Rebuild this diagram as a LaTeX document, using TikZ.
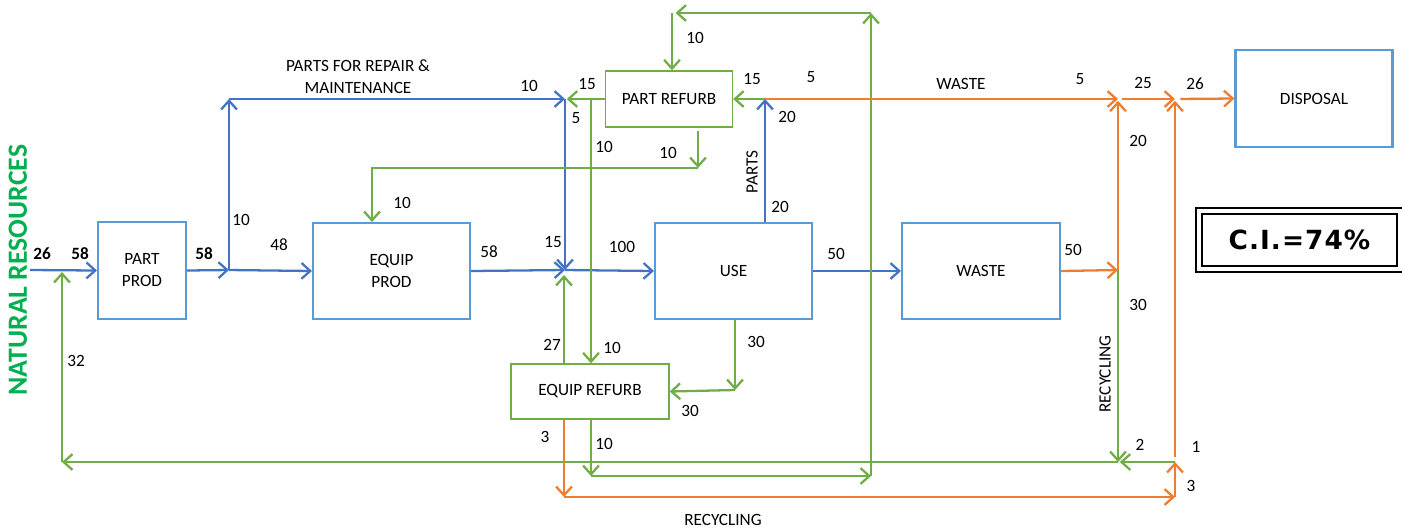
\documentclass[tikz,border=0pt]{standalone}
\usepackage{fontspec}
\setmainfont{Carlito}
\newfontfamily\cifont[LetterSpace=4]{DejaVu Sans}
\usetikzlibrary{arrows.meta}

\definecolor{boxblue}{RGB}{91,155,213}
\definecolor{flowblue}{RGB}{68,114,196}
\definecolor{flowgreen}{RGB}{112,173,71}
\definecolor{floworange}{RGB}{237,125,49}
\definecolor{natgreen}{RGB}{0,176,80}

\begin{document}
\begin{tikzpicture}[x=0.02cm, y=-0.02cm,
    box/.style   = {rectangle, draw=boxblue, line width=1.2pt, align=center,
                    font=\fontsize{9.8}{12.5}\selectfont},
    gbox/.style  = {rectangle, draw=flowgreen, line width=0.8pt, align=center,
                    font=\fontsize{9.8}{12.5}\selectfont},
    flow/.style  = {-{Straight Barb[length=5pt, width=9pt, line width=1.3pt]}, line width=1.3pt},
    lbl/.style   = {font=\fontsize{9.8}{12.5}\selectfont, inner sep=0pt}
]
\useasboundingbox (0,0) rectangle (1402,529);

% boxes
\node[box, minimum width=1.76cm, minimum height=1.94cm] (pprod) at (142,270.5) {PART\\PROD};
\node[box, minimum width=3.14cm, minimum height=1.92cm] (eprod) at (391.5,271) {EQUIP\\PROD};
\node[box, minimum width=3.14cm, minimum height=1.92cm] (use)   at (733.5,271) {USE};
\node[box, minimum width=3.16cm, minimum height=1.92cm] (waste) at (981,271)   {WASTE};
\node[box, minimum width=3.14cm, minimum height=1.94cm] (disp)  at (1314,98.5) {DISPOSAL};
\node[gbox, minimum width=2.54cm, minimum height=1.12cm] (prefurb) at (669,99)  {PART REFURB};
\node[gbox, minimum width=3.16cm, minimum height=1.10cm] (erefurb) at (590,391.5) {EQUIP REFURB};
\node[draw, line width=1.5pt, minimum width=3.9cm, minimum height=1.04cm,
      font=\cifont\bfseries\fontsize{15}{18}\selectfont] (ci) at (1299.5,240) {C.I.=74\%};
\draw[line width=0.9pt] ([shift={(-2.6pt,2.6pt)}]ci.north west) rectangle ([shift={(2.6pt,-2.6pt)}]ci.south east);
\node[rotate=90, text=natgreen, font=\bfseries\fontsize{15.8}{18}\selectfont, inner sep=0pt] (natres) at (18,270) {NATURAL RESOURCES};

% junctions
\coordinate (src)    at (30,270);
\coordinate (jin)    at (62,272);
\coordinate (jsplit) at (229,270);
\coordinate (jcorner) at (229,99);
\coordinate (jtop)   at (565,99);
\coordinate (jmix)   at (565,270);
\coordinate (jmixb)  at (564,275);
\coordinate (jpart)  at (765,99);
\coordinate (jr1)    at (698,168);
\coordinate (jr2)    at (372,168);
\coordinate (jtl)    at (672,13);
\coordinate (jtr)    at (871,13);
\coordinate (jbl)    at (591,476);
\coordinate (jbr)    at (871,476);
\coordinate (jv)     at (591,99);
\coordinate (ju)     at (735,390);
\coordinate (jw1)    at (1118,99);
\coordinate (jw2)    at (1118,270);
\coordinate (jd)     at (1175,99);
\coordinate (jrec)   at (1118,462);
\coordinate (jrr)    at (1175,462);
\coordinate (jll)    at (62,462);
\coordinate (jo1)    at (564,497);
\coordinate (jo2)    at (1175,497);

% blue flows
\draw[flow, flowblue] (src) -- (pprod.west);
\draw[flow, flowblue] (pprod.east) -- (jsplit);
\draw[flow, flowblue] (jsplit) -- (eprod.west);
\draw[flow, flowblue] (jsplit) -- (jcorner);
\draw[flow, flowblue] (jcorner) -- (jtop);
\draw[flow, flowblue] (jtop) -- (jmix);
\draw[flow, flowblue] (eprod.east) -- (jmix);
\draw[flow, flowblue] (jmix) -- (use.west);
\draw[flow, flowblue] (use.north -| jpart) -- (jpart);
\draw[flow, flowblue] (use.east) -- (waste.west);

% green flows
\draw[flow, flowgreen] (prefurb.west) -- ([xshift=1pt]jtop);
\draw[flow, flowgreen] (jv) -- (erefurb.north -| jv);
\draw[flow, flowgreen] ([yshift=-2pt]prefurb.south -| jr1) -- (jr1);
\draw[flow, flowgreen] (jr1) -- (jr2) -- (eprod.north -| jr2);
\draw[flow, flowgreen] (erefurb.north -| jmixb) -- (jmixb);
\draw[flow, flowgreen] (jpart) -- (prefurb.east);
\draw[flow, flowgreen] (jtr) -- ([xshift=2pt]jtl);
\draw[flow, flowgreen] (jtl) -- (prefurb.north -| jtl);
\draw[flow, flowgreen] (erefurb.south -| jbl) -- (jbl);
\draw[flow, flowgreen] (jbl) -- (jbr);
\draw[flow, flowgreen] (jbr) -- (jtr);
\draw[flow, flowgreen] (use.south -| ju) -- (ju);
\draw[flow, flowgreen] (ju) -- (erefurb.east);
\draw[flow, flowgreen] (jw2) -- (jrec);
\draw[flow, flowgreen] (jrr) -- ([xshift=1pt]jrec);
\draw[flow, flowgreen] (jrec) -- (jll);
\draw[flow, flowgreen] (jll) -- (jin);

% orange flows
\draw[flow, floworange] (jpart) -- (jw1);
\draw[flow, floworange] (waste.east) -- (jw2);
\draw[flow, floworange] (jw2) -- ([yshift=-1pt]jw1);
\draw[flow, floworange, shorten <=2pt] (jw1) -- (jd);
\draw[flow, floworange, shorten <=3pt] (jd) -- (disp.west);
\draw[flow, floworange] (jo2) -- (jrr);
\draw[flow, floworange, shorten <=3pt] (jrr) -- ([yshift=-1pt]jd);
\draw[flow, floworange] (erefurb.south -| jo1) -- (jo1);
\draw[flow, floworange] (jo1) -- (jo2);

% labels
\node[lbl, font=\bfseries\fontsize{9.8}{12.5}\selectfont] (l26a) at (42,254) {26};
\node[lbl, font=\bfseries\fontsize{9.8}{12.5}\selectfont] (l58a) at (80,254) {58};
\node[lbl, font=\bfseries\fontsize{9.8}{12.5}\selectfont] (l58b) at (204,254) {58};
\node[lbl] (l32)  at (76,361)  {32};
\node[lbl] (l10a) at (241,220) {10};
\node[lbl] (l48)  at (279,245) {48};
\node[lbl, align=center] (lrep) at (358,77) {PARTS FOR REPAIR \&\\MAINTENANCE};
\node[lbl] (l10b) at (529,86)  {10};
\node[lbl] (l15a) at (587,84)  {15};
\node[lbl] (l5a)  at (576,118) {5};
\node[lbl] (l10c) at (604,147) {10};
\node[lbl] (l10d) at (668,153) {10};
\node[lbl] (l10e) at (402,203) {10};
\node[lbl] (l58c) at (489,252) {58};
\node[lbl] (l15b) at (553,242) {15};
\node[lbl] (l100) at (622,247) {100};
\node[lbl] (l27)  at (552,345) {27};
\node[lbl] (l10f) at (612,348) {10};
\node[lbl] (l10g) at (695,38)  {10};
\node[lbl] (l15c) at (752,79)  {15};
\node[lbl] (l5b)  at (811,77)  {5};
\node[lbl] (l20a) at (787,117) {20};
\node[lbl, rotate=90] (lparts) at (752,172) {PARTS};
\node[lbl] (l20b) at (780,207) {20};
\node[lbl] (lwaste) at (961,84) {WASTE};
\node[lbl] (l5c)  at (1080,79) {5};
\node[lbl] (l25)  at (1143,83) {25};
\node[lbl] (l26b) at (1195,84) {26};
\node[lbl] (l20c) at (1138,141) {20};
\node[lbl] (l50a) at (836,254) {50};
\node[lbl] (l50b) at (1073,250) {50};
\node[lbl] (l30a) at (1138,305) {30};
\node[lbl, rotate=90] (lrecv) at (1105,374) {RECYCLING};
\node[lbl] (l2)   at (1140,445) {2};
\node[lbl] (l1)   at (1196,447) {1};
\node[lbl] (l3a)  at (1191,486) {3};
\node[lbl] (l30b) at (756,342) {30};
\node[lbl] (l30c) at (690,411) {30};
\node[lbl] (l3b)  at (545,437) {3};
\node[lbl] (l10h) at (604,444) {10};
\node[lbl] (lrech) at (723,520) {RECYCLING};
\end{tikzpicture}
\end{document}
